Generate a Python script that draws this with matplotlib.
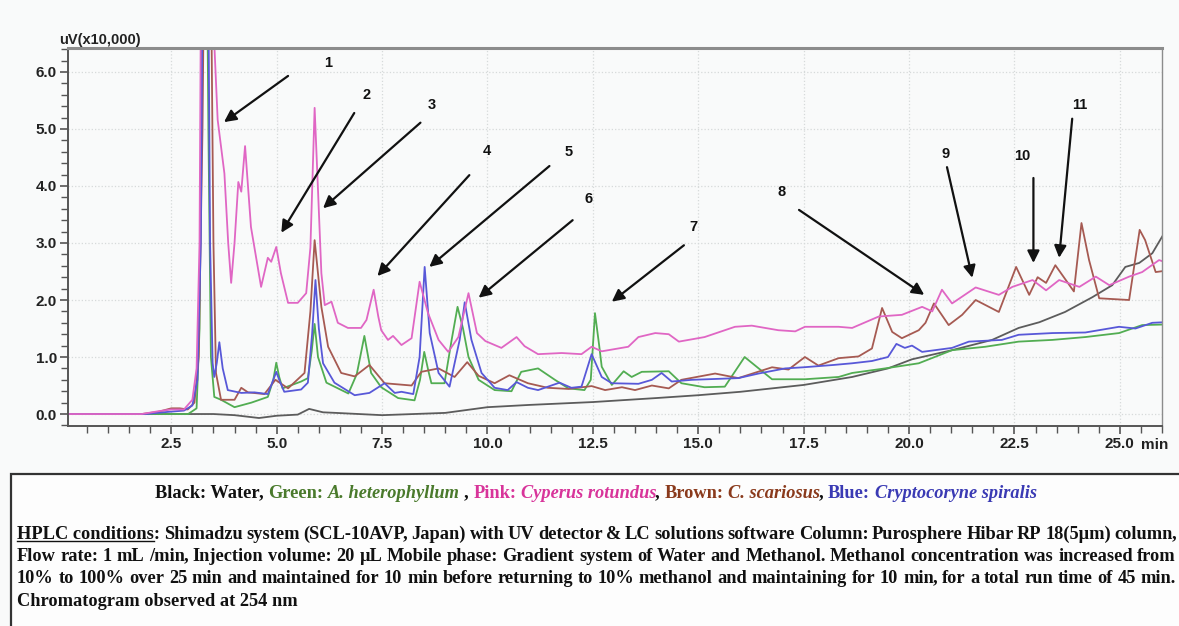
import matplotlib
matplotlib.use('Agg')
import matplotlib.pyplot as plt
from matplotlib.ticker import MultipleLocator, FormatStrFormatter
from matplotlib.patches import Rectangle
from matplotlib.lines import Line2D

W, H = 1179, 626
BG = '#f9fafa'

# (min, uV x10,000) pairs, off-scale tops estimated
water = [(0.05, 0.0), (2.0, 0.0), (3.0, 0.0), (3.5, 0.0), (4.0, -0.02), (4.58, -0.07), (5.0, -0.03),
         (5.5, -0.01), (5.77, 0.09), (6.1, 0.03), (6.4, 0.02), (7.5, -0.02), (9.0, 0.02), (10.0, 0.12),
         (11.0, 0.16), (12.5, 0.21), (14.0, 0.28), (15.0, 0.33), (16.0, 0.39), (17.0, 0.47), (17.5, 0.51),
         (18.65, 0.65), (19.5, 0.8), (20.07, 0.96), (21.02, 1.12), (21.97, 1.30), (22.6, 1.51),
         (23.09, 1.61), (23.7, 1.79), (24.35, 2.05), (24.82, 2.26), (25.13, 2.58), (25.46, 2.65),
         (25.77, 2.82), (26.05, 3.17)]

heterophyllum = [(0.05, 0.0), (2.0, 0.0), (2.9, 0.0), (3.1, 0.1), (3.17, 1.5), (3.22, 6.0), (3.26, 9.5),
                 (3.33, 9.5), (3.38, 5.0), (3.44, 1.0), (3.52, 0.3), (3.68, 0.25), (4.0, 0.12), (4.4, 0.2),
                 (4.79, 0.3), (4.92, 0.6), (4.99, 0.9), (5.06, 0.65), (5.14, 0.45), (5.58, 0.57), (5.74, 0.63),
                 (5.83, 1.1), (5.9, 1.58), (5.98, 1.0), (6.18, 0.55), (6.7, 0.36), (6.9, 0.7), (7.08, 1.37),
                 (7.24, 0.72), (7.48, 0.47), (7.88, 0.28), (8.27, 0.24), (8.4, 0.6), (8.5, 1.09), (8.6, 0.75),
                 (8.67, 0.54), (8.98, 0.54), (9.15, 1.3), (9.29, 1.88), (9.42, 1.5), (9.55, 1.0), (9.79, 0.6),
                 (10.17, 0.42), (10.57, 0.4), (10.8, 0.74), (11.2, 0.8), (11.6, 0.6), (11.92, 0.45),
                 (12.3, 0.42), (12.45, 0.6), (12.55, 1.77), (12.65, 1.2), (12.71, 0.83), (12.95, 0.51),
                 (13.23, 0.75), (13.42, 0.65), (13.66, 0.74), (14.3, 0.75), (14.6, 0.54), (15.15, 0.47),
                 (15.63, 0.48), (16.1, 1.0), (16.75, 0.61), (17.53, 0.61), (18.33, 0.65), (18.65, 0.72),
                 (19.43, 0.8), (20.23, 0.89), (21.02, 1.12), (21.81, 1.18), (22.6, 1.27), (23.4, 1.3),
                 (24.18, 1.35), (24.98, 1.42), (25.53, 1.56), (26.05, 1.57)]

scariosus = [(0.05, 0.0), (1.8, 0.0), (2.2, 0.04), (2.5, 0.1), (2.7, 0.1), (2.89, 0.08), (3.05, 0.2),
             (3.15, 1.0), (3.24, 5.0), (3.3, 9.5), (3.42, 9.5), (3.5, 3.0), (3.56, 0.72), (3.68, 0.25),
             (4.0, 0.25), (4.16, 0.46), (4.32, 0.38), (4.71, 0.35), (4.97, 0.6), (5.27, 0.45), (5.66, 0.72),
             (5.8, 1.8), (5.9, 3.05), (6.06, 1.88), (6.22, 1.18), (6.53, 0.72), (6.85, 0.66), (7.2, 0.86),
             (7.56, 0.54), (8.2, 0.5), (8.43, 0.74), (8.84, 0.8), (9.22, 0.65), (9.52, 0.91), (9.79, 0.67),
             (10.17, 0.54), (10.52, 0.68), (10.96, 0.54), (11.43, 0.46), (11.92, 0.44), (12.47, 0.49),
             (12.79, 0.42), (13.19, 0.47), (13.5, 0.42), (13.9, 0.5), (14.3, 0.45), (14.6, 0.6),
             (15.4, 0.71), (15.95, 0.63), (16.75, 0.82), (17.14, 0.78), (17.53, 1.0), (17.85, 0.85),
             (18.33, 0.98), (18.8, 1.01), (19.12, 1.15), (19.36, 1.86), (19.6, 1.44), (19.83, 1.33),
             (20.23, 1.47), (20.39, 1.6), (20.59, 1.94), (20.94, 1.56), (21.26, 1.74), (21.58, 2.0),
             (22.13, 1.79), (22.54, 2.58), (22.85, 2.09), (23.05, 2.4), (23.25, 2.3), (23.47, 2.61),
             (23.91, 2.15), (24.09, 3.35), (24.27, 2.7), (24.51, 2.03), (25.22, 2.0), (25.47, 3.23),
             (25.6, 3.05), (25.85, 2.49), (26.05, 2.51)]

spiralis = [(0.05, 0.0), (1.9, 0.0), (2.3, 0.03), (2.8, 0.06), (3.0, 0.15), (3.12, 0.6), (3.2, 3.0),
            (3.26, 9.5), (3.36, 9.5), (3.42, 3.0), (3.48, 0.9), (3.52, 0.65), (3.58, 0.9), (3.64, 1.26),
            (3.72, 0.8), (3.84, 0.42), (4.16, 0.37), (4.47, 0.38), (4.79, 0.35), (4.92, 0.6), (4.99, 0.74),
            (5.06, 0.6), (5.18, 0.39), (5.58, 0.43), (5.74, 0.55), (5.84, 1.4), (5.92, 2.35), (6.0, 1.5),
            (6.1, 0.89), (6.37, 0.55), (6.85, 0.33), (7.2, 0.37), (7.56, 0.54), (7.8, 0.37), (7.96, 0.39),
            (8.24, 0.35), (8.39, 1.0), (8.51, 2.58), (8.63, 1.42), (8.84, 0.72), (9.1, 0.48), (9.34, 1.3),
            (9.46, 1.96), (9.62, 1.3), (9.86, 0.72), (10.17, 0.46), (10.48, 0.42), (10.69, 0.56),
            (10.96, 0.46), (11.2, 0.42), (11.71, 0.55), (11.99, 0.46), (12.23, 0.48), (12.47, 1.05),
            (12.71, 0.65), (12.95, 0.54), (13.58, 0.53), (13.9, 0.6), (14.13, 0.72), (14.37, 0.57),
            (14.85, 0.6), (15.95, 0.63), (16.43, 0.71), (17.06, 0.8), (17.5, 0.82), (18.2, 0.86),
            (18.65, 0.89), (19.12, 0.93), (19.5, 1.0), (19.7, 1.23), (19.9, 1.16), (20.07, 1.2),
            (20.31, 1.09), (21.02, 1.16), (21.42, 1.27), (22.2, 1.3), (22.6, 1.39), (23.4, 1.42),
            (24.18, 1.43), (24.98, 1.53), (25.37, 1.5), (25.77, 1.6), (26.05, 1.61)]

rotundus = [(0.05, 0.0), (1.8, 0.0), (2.2, 0.05), (2.5, 0.08), (2.8, 0.08), (3.0, 0.25), (3.1, 0.8),
            (3.17, 3.0), (3.22, 9.5), (3.47, 9.5), (3.52, 6.5), (3.6, 5.16), (3.76, 4.22), (3.85, 3.0),
            (3.92, 2.3), (4.0, 3.0), (4.09, 4.07), (4.16, 3.9), (4.25, 4.7), (4.39, 3.28), (4.63, 2.23),
            (4.79, 2.74), (4.87, 2.67), (4.99, 2.93), (5.1, 2.47), (5.27, 1.95), (5.5, 1.95), (5.7, 2.12),
            (5.8, 2.92), (5.9, 5.37), (5.98, 3.93), (6.06, 2.47), (6.14, 1.91), (6.3, 1.97), (6.45, 1.6),
            (6.69, 1.51), (7.0, 1.51), (7.13, 1.65), (7.3, 2.18), (7.41, 1.71), (7.48, 1.47), (7.64, 1.3),
            (7.76, 1.37), (7.96, 1.21), (8.2, 1.33), (8.39, 2.32), (8.59, 1.77), (8.84, 1.3), (9.07, 1.09),
            (9.31, 1.35), (9.55, 2.12), (9.75, 1.42), (9.95, 1.28), (10.33, 1.16), (10.69, 1.35),
            (10.88, 1.19), (11.2, 1.05), (11.76, 1.07), (12.23, 1.05), (12.47, 1.18), (12.71, 1.1),
            (13.34, 1.18), (13.58, 1.35), (13.98, 1.42), (14.3, 1.4), (14.54, 1.27), (15.15, 1.35),
            (15.87, 1.53), (16.27, 1.55), (16.9, 1.47), (17.3, 1.45), (17.53, 1.53), (18.33, 1.53),
            (18.65, 1.51), (19.28, 1.71), (19.83, 1.74), (20.31, 1.88), (20.55, 1.8), (20.78, 2.18),
            (21.02, 1.94), (21.58, 2.22), (22.13, 2.09), (22.45, 2.23), (22.93, 2.35), (23.25, 2.17),
            (23.56, 2.35), (24.04, 2.23), (24.43, 2.41), (24.75, 2.26), (25.22, 2.41), (25.53, 2.49),
            (25.93, 2.7), (26.05, 2.67)]

# peak numbers: label spot, arrow tail, arrow head (min, uV)
peak_labels = ['1', '2', '3', '4', '5', '6', '7', '8', '9', '10', '11']
label_xy = [(6.23, 6.16), (7.13, 5.60), (8.69, 5.42), (9.98, 4.61), (11.92, 4.60), (12.4, 3.77),
            (14.89, 3.28), (16.98, 3.89), (20.86, 4.56), (22.68, 4.53), (24.06, 5.42)]
arrow_tail = [(5.27, 5.93), (6.84, 5.28), (8.41, 5.11), (9.57, 4.19), (11.47, 4.35), (12.02, 3.40),
              (14.66, 2.96), (17.39, 3.58), (20.9, 4.33), (22.95, 4.14), (23.87, 5.18)]
arrow_head = [(3.75, 5.12), (5.11, 3.18), (6.1, 3.61), (7.39, 2.42), (8.62, 2.58), (9.79, 2.04),
              (12.95, 1.97), (20.36, 2.09), (21.5, 2.39), (22.95, 2.65), (23.56, 2.74)]

c_water, c_green, c_brown, c_blue, c_pink = '#5c5c5c', '#52ad52', '#a65a52', '#5858d8', '#e066c4'
t_green, t_pink, t_brown, t_blue = '#4a7a2c', '#d8349a', '#8a3a1c', '#3a3ab4'


def unzip(pairs):
    return [p[0] for p in pairs], [p[1] for p in pairs]


fig = plt.figure(figsize=(W / 100, H / 100), dpi=100, facecolor=BG)
ax = fig.add_axes([68 / W, 1 - 426 / H, (1162 - 68) / W, (426 - 48) / H])
ax.set_facecolor(BG)

for data, col in [(water, c_water), (heterophyllum, c_green), (scariosus, c_brown),
                  (spiralis, c_blue), (rotundus, c_pink)]:
    x, y = unzip(data)
    ax.plot(x, y, color=col, lw=1.3)

ax.set_xlim(0.05, 26.0)
ax.set_ylim(-0.21, 6.42)
ax.xaxis.set_major_locator(MultipleLocator(2.5))
ax.xaxis.set_minor_locator(MultipleLocator(0.5))
ax.yaxis.set_major_locator(MultipleLocator(1.0))
ax.yaxis.set_minor_locator(MultipleLocator(0.2))
ax.xaxis.set_major_formatter(FormatStrFormatter('%.1f'))
ax.yaxis.set_major_formatter(FormatStrFormatter('%.1f'))
ax.set_xticks([t for t in ax.get_xticks() if 1 < t < 26])
ax.grid(True, which='major', color='#d6dada', ls=':', lw=0.9)
ax.tick_params(which='major', length=6, width=1.2, color='#555555', pad=2)
ax.tick_params(which='minor', length=5, width=1.0, color='#555555')
for lab in ax.get_xticklabels() + ax.get_yticklabels():
    lab.set_fontfamily('Liberation Sans')
    lab.set_fontweight('bold')
    lab.set_fontsize(11)
    lab.set_color('#222222')
ax.spines['left'].set_color('#555555')
ax.spines['left'].set_linewidth(1.4)
ax.spines['bottom'].set_color('#555555')
ax.spines['bottom'].set_linewidth(1.4)
ax.spines['top'].set_color('#8c8c8c')
ax.spines['top'].set_linewidth(2.2)
ax.spines['right'].set_color('#8c8c8c')
ax.spines['right'].set_linewidth(1.0)

ax.text(-0.008, 1.003, 'uV(x10,000)', transform=ax.transAxes, ha='left', va='bottom',
        family='Liberation Sans', weight='bold', fontsize=10.5, color='#222222')
ax.text(0.993, -0.033, 'min', transform=ax.transAxes, ha='center', va='top',
        family='Liberation Sans', weight='bold', fontsize=11, color='#222222')

for lab, lxy, tail, head in zip(peak_labels, label_xy, arrow_tail, arrow_head):
    ax.text(lxy[0], lxy[1], lab, ha='center', va='center', family='Liberation Sans',
            weight='bold', fontsize=10.5, color='#111111')
    ax.annotate('', xy=head, xytext=tail,
                arrowprops=dict(arrowstyle='-|>', color='#111111', lw=1.6, mutation_scale=18,
                                shrinkA=0, shrinkB=0))

# caption box
fig.patches.append(Rectangle((11 / W, -0.1), 1.2, 0.1 + 1 - 474 / H, transform=fig.transFigure,
                             facecolor='#fdfdfd', edgecolor='#333333', lw=1.6))

fig.canvas.draw()
renderer = fig.canvas.get_renderer()
SERIF = 'Liberation Serif'
FS = 13.2
COMMA_PULL = 1.5  # a lone comma needs pulling back onto its word


def put(x, yb, s, **kw):
    # a lone comma sits a pixel low in Agg, lift it a little
    if s == ',':
        yb -= 1
    t = fig.text(x / W, 1 - yb / H, s, ha='left', va='baseline', family=SERIF,
                 weight='bold', fontsize=FS, **kw)
    return t, t.get_window_extent(renderer).width


def measure(s, style='normal'):
    t = fig.text(0, 0, s, family=SERIF, weight='bold', fontsize=FS, style=style)
    w = t.get_window_extent(renderer).width
    t.remove()
    return w


sp = measure('x x') - measure('xx')

# coloured legend line: (text, colour, style, space before)
legend_parts = [('Black: Water', '#111111', 'normal', False), (',', '#111111', 'normal', False),
                ('Green:', t_green, 'normal', True), ('A. heterophyllum', t_green, 'italic', True),
                (',', '#111111', 'normal', True),
                ('Pink:', t_pink, 'normal', True), ('Cyperus rotundus', t_pink, 'italic', True),
                (',', '#111111', 'normal', False),
                ('Brown:', t_brown, 'normal', True), ('C. scariosus', t_brown, 'italic', True),
                (',', '#111111', 'normal', False),
                ('Blue:', t_blue, 'normal', True), ('Cryptocoryne spiralis', t_blue, 'italic', True)]

pieces = []
total = 0
for s, col, st, gap in legend_parts:
    t, w = put(0, 498, s, color=col, style=st)
    if gap:
        total += sp
    elif s == ',':
        total -= COMMA_PULL
    pieces.append((t, total))
    total += w
x0 = 596 - total / 2
for t, off in pieces:
    t.set_x((x0 + off) / W)

caption = ['HPLC conditions: Shimadzu system (SCL-10AVP, Japan) with UV detector & LC solutions software '
           'Column: Purosphere Hibar RP 18(5µm) column,',
           'Flow rate: 1 mL /min, Injection volume: 20 µL Mobile phase: Gradient system of Water and '
           'Methanol. Methanol concentration was increased from',
           '10% to 100% over 25 min and maintained for 10 min before returning to 10% methanol and '
           'maintaining for 10 min, for a total run time of 45 min.',
           'Chromatogram observed at 254 nm']
baselines = [539, 561, 583, 606]
left, right = 17, 1176

for i, (line, yb) in enumerate(zip(caption, baselines)):
    if i == len(caption) - 1:
        put(left, yb, line, color='#111111')
        continue
    words = line.split(' ')
    if i == 0:
        words = ['HPLC conditions:'] + words[2:]
    arts = []
    for w in words:
        if w.endswith(',') and len(w) > 1:
            a, wa = put(0, yb, w[:-1], color='#111111')
            c, wc = put(0, yb, ',', color='#111111')
            arts.append([(a, wa - COMMA_PULL), (c, wc)])
        else:
            arts.append([put(0, yb, w, color='#111111')])
    widths = [sum(w for _, w in grp) for grp in arts]
    gap = (right - left - sum(widths)) / (len(arts) - 1)
    x = left
    for grp, gw in zip(arts, widths):
        xx = x
        for t, w in grp:
            t.set_x(xx / W)
            xx += w
        x += gw + gap
    if i == 0:
        uw = measure('HPLC conditions')
        fig.lines.append(Line2D([left / W, (left + uw) / W], [1 - (yb + 2) / H] * 2,
                                transform=fig.transFigure, color='#111111', lw=1.0))

fig.savefig('out.png', dpi=100, facecolor=BG)
